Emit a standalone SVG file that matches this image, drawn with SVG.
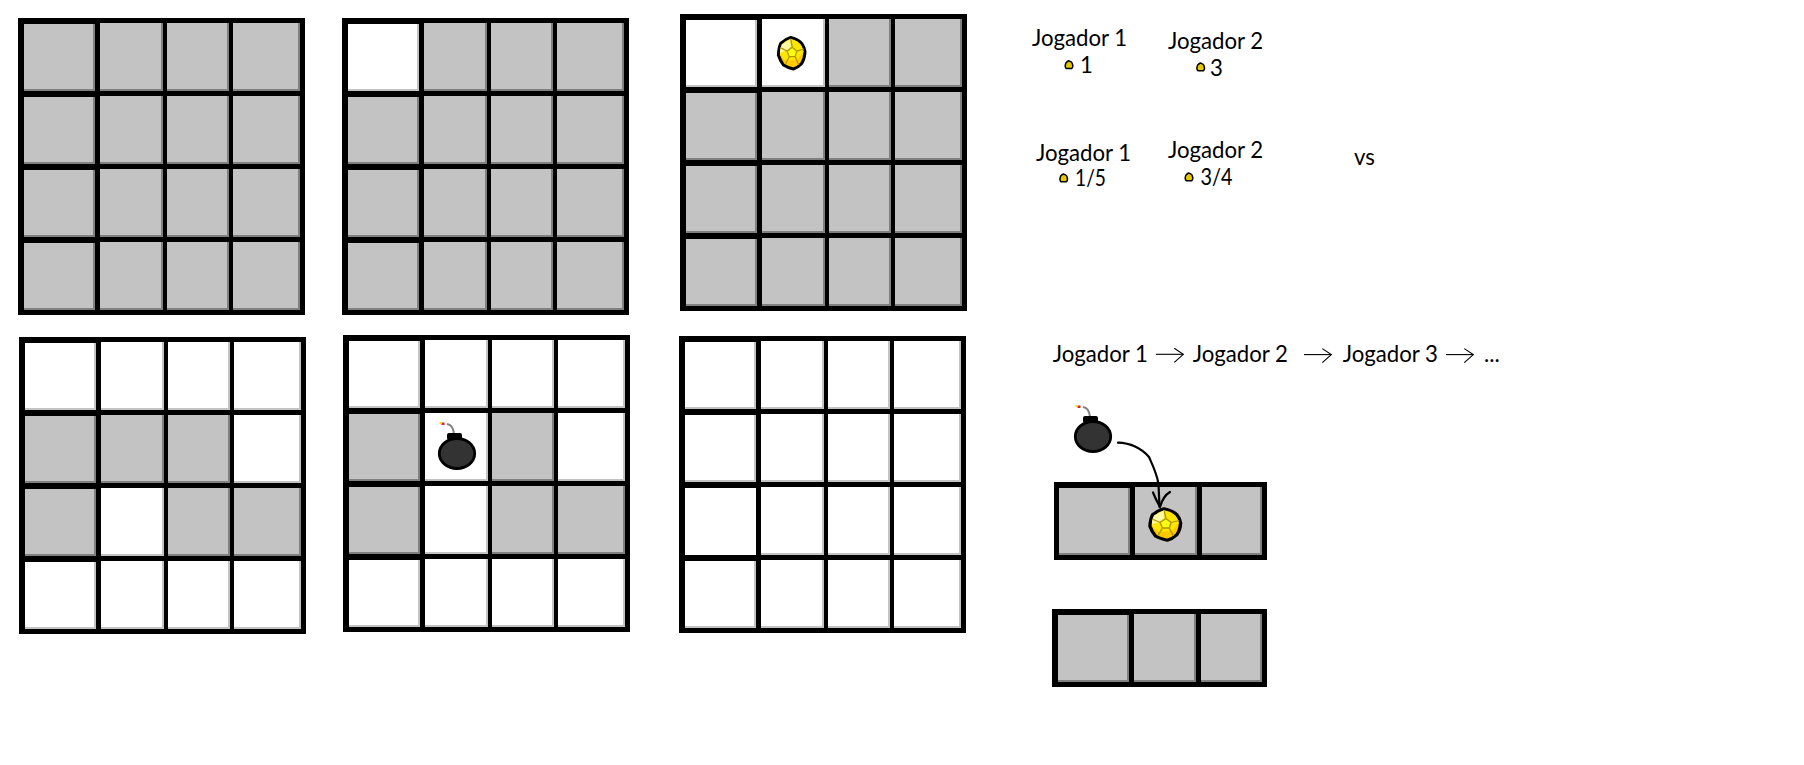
<svg xmlns="http://www.w3.org/2000/svg" xmlns:xlink="http://www.w3.org/1999/xlink" width="1804" height="765" viewBox="0 0 1804 765">
<style>
.bk{fill:#000}.sg{fill:#808080}.g{fill:#c3c3c3}.w{fill:#fff}
.r{shape-rendering:crispEdges}
.t{font-family:Lato,"Noto Sans",sans-serif;font-size:22.2px;fill:#000}
.ln{fill:none;stroke:#000;stroke-width:1.1}
.cv{fill:none;stroke:#000;stroke-width:2.2;stroke-linecap:round;stroke-linejoin:round}
.ol{fill:none;stroke:#b09a00;stroke-width:1.3}
</style>
<defs>
<g id="g1" class="r"><rect class="sg" width="71" height="67"/><rect class="g" width="69" height="65"/></g>
<g id="g2" class="r"><rect class="sg" width="63" height="68"/><rect class="g" width="61" height="66"/></g>
<g id="g3" class="r"><rect class="sg" width="62" height="68"/><rect class="g" width="60" height="66"/></g>
<g id="g4" class="r"><rect class="sg" width="67" height="68"/><rect class="g" width="65" height="66"/></g>
<g id="w1" class="r"><rect class="g" width="71" height="67"/><rect class="w" width="69" height="65"/></g>
<g id="w2" class="r"><rect class="g" width="63" height="68"/><rect class="w" width="61" height="66"/></g>
<g id="w3" class="r"><rect class="g" width="62" height="68"/><rect class="w" width="60" height="66"/></g>
<g id="w4" class="r"><rect class="g" width="67" height="68"/><rect class="w" width="65" height="66"/></g>
<g id="rowG"><use href="#g1" x="24" y="1"/><use href="#g2" x="100"/><use href="#g3" x="167"/><use href="#g4" x="233"/></g>
<g id="rowW"><use href="#w1" x="24" y="1"/><use href="#w2" x="100"/><use href="#w3" x="167"/><use href="#w4" x="233"/></g>
<rect id="frame" class="bk r" x="18" y="18" width="287" height="297"/>
<g id="bomb">
<path d="M1090 416.5Q1089 408 1083 407" fill="none" stroke="#808080" stroke-width="2"/>
<rect x="1077.5" y="405.5" width="3" height="2.5" fill="#e02020"/>
<rect x="1075.5" y="405" width="2.5" height="2" fill="#ffe000"/>
<rect x="1083" y="416" width="15" height="7" rx="2" fill="#000"/>
<ellipse cx="1093" cy="436.5" rx="17.7" ry="15" fill="#333" stroke="#000" stroke-width="2.8"/>
</g>
<g id="coin">
<path d="M-1-15.3Q7-13 10-9.3Q13-5 13.3-1Q13 6 10 10.7Q6 15 1.7 16.3Q-4 15-8.3 12.3Q-12 7-13.3 2.3Q-13-5-11-9.3Q-6-14-1-15.3Z" fill="#ffc800" stroke="#000" stroke-width="3" stroke-linejoin="round"/>
<path d="M-1-13.8Q6-12 9-8Q11.5-4 11.8-1L6 7-6 8-11.8 2Q-11.5-5-9.5-8.5Q-5-12.5-1-13.8Z" fill="#ffe600"/>
<path d="M-1-13.8-9.5-8.5Q-11.5-5-11.8 0L-5-2-1-6Z" fill="#fff9a8"/>
<polygon points="0.5,-5.5 5,-1.5 3.5,4 -2.5,4 -4.5,-1.5" fill="#ffff10"/>
<path class="ol" d="M0.5-5.5 5-1.5 3.5 4-2.5 4-4.5-1.5ZM0.5-5.5-1-14M5-1.5 12-3.5M3.5 4 7 12M-2.5 4-6 11M-4.5-1.5-11.5-5"/>
</g>
<path id="dot" d="M-0.3-4Q2.5-3 3-2Q3.8 0 3.8 1.5Q3.5 3.2 2.5 3.8H-2.5Q-3.5 3.2-3.8 1.5Q-3.8-.5-3-2Q-1.5-3.5-0.3-4Z" fill="#e6c800" stroke="#000" stroke-width="1.5" stroke-linejoin="round"/>
<marker id="head" markerUnits="userSpaceOnUse" markerWidth="14" markerHeight="20" refX="10" refY="8" orient="auto">
<path d="M1 2 10 8 1 16" fill="none" stroke="#000" stroke-width="1.1"/>
</marker>
</defs>
<rect width="1804" height="765" fill="#fff"/>

<g id="board-1" transform="translate(0 0)">
<use href="#frame"/><use href="#rowG" y="23"/><use href="#rowG" y="96"/><use href="#rowG" y="169"/><use href="#rowG" y="242"/>
</g>
<g id="board-2" transform="translate(324 0)">
<use href="#frame"/><use href="#rowG" y="23"/><use href="#rowG" y="96"/><use href="#rowG" y="169"/><use href="#rowG" y="242"/>
<use href="#w1" x="24" y="24"/>
</g>
<g id="board-3" transform="translate(662 -4)">
<use href="#frame"/><use href="#rowG" y="23"/><use href="#rowG" y="96"/><use href="#rowG" y="169"/><use href="#rowG" y="242"/>
<use href="#w1" x="24" y="24"/><use href="#w2" x="100" y="23"/>
</g>
<g id="board-4" transform="translate(1 319)">
<use href="#frame"/><use href="#rowW" y="23"/><use href="#rowG" y="96"/><use href="#rowG" y="169"/><use href="#rowW" y="242"/>
<use href="#w4" x="233" y="96"/><use href="#w2" x="100" y="169"/>
</g>
<g id="board-5" transform="translate(325 317)">
<use href="#frame"/><use href="#rowW" y="23"/><use href="#rowG" y="96"/><use href="#rowG" y="169"/><use href="#rowW" y="242"/>
<use href="#w2" x="100" y="96"/><use href="#w4" x="233" y="96"/><use href="#w2" x="100" y="169"/>
</g>
<g id="board-6" transform="translate(661 318)">
<use href="#frame"/><use href="#rowW" y="23"/><use href="#rowW" y="96"/><use href="#rowW" y="169"/><use href="#rowW" y="242"/>
<rect class="w r" x="24" y="170" width="71" height="67"/>
</g>

<g id="strip-1" class="r">
<rect class="bk" x="1054" y="482" width="213" height="78"/>
<rect class="sg" x="1059" y="488" width="71" height="67"/><rect class="g" x="1059" y="488" width="69" height="65"/>
<rect class="sg" x="1135" y="487" width="62" height="68"/><rect class="g" x="1135" y="487" width="60" height="66"/>
<rect class="sg" x="1202" y="487" width="60" height="68"/><rect class="g" x="1202" y="487" width="58" height="66"/>
</g>
<g id="strip-2" class="r">
<rect class="bk" x="1052" y="609" width="215" height="78"/>
<rect class="sg" x="1058" y="615" width="71" height="67"/><rect class="g" x="1058" y="615" width="69" height="65"/>
<rect class="sg" x="1134" y="614" width="62" height="68"/><rect class="g" x="1134" y="614" width="60" height="66"/>
<rect class="sg" x="1201" y="614" width="61" height="68"/><rect class="g" x="1201" y="614" width="59" height="66"/>
</g>

<g id="bomb-board" transform="translate(-636 17)"><use href="#bomb"/></g>
<g id="bomb-legend"><use href="#bomb"/></g>
<g id="coin-board" transform="translate(791.7 52.7)"><use href="#coin"/></g>
<g id="coin-strip" transform="translate(1165.3 524) scale(1.15 1)"><use href="#coin"/></g>

<g id="score-a">
<text class="t" x="1032" y="46">Jogador 1</text>
<use href="#dot" x="1069" y="64.8"/>
<text class="t" x="1080" y="72.5">1</text>
</g>
<g id="score-b">
<text class="t" x="1168" y="48.5">Jogador 2</text>
<use href="#dot" x="1200.7" y="67"/>
<text class="t" x="1210" y="76">3</text>
</g>
<g id="score-c">
<text class="t" x="1036" y="160.5">Jogador 1</text>
<use href="#dot" x="1063.7" y="178"/>
<text class="t" x="1075" y="186" textLength="31" lengthAdjust="spacingAndGlyphs">1/5</text>
</g>
<g id="score-d">
<text class="t" x="1168" y="157.5">Jogador 2</text>
<use href="#dot" x="1189" y="177"/>
<text class="t" x="1200.5" y="185" textLength="32" lengthAdjust="spacingAndGlyphs">3/4</text>
</g>
<text class="t" id="vs" x="1354" y="165">vs</text>

<g id="turn-order">
<text class="t" x="1052.7" y="362">Jogador 1</text>
<text class="t" x="1192.7" y="362">Jogador 2</text>
<text class="t" x="1342.7" y="362">Jogador 3</text>
<text class="t" x="1484" y="362">...</text>
</g>

<g id="connectors">
<path class="ln" marker-end="url(#head)" d="M1156 354.3H1183.3"/>
<path class="ln" marker-end="url(#head)" d="M1304 354.6H1331.3"/>
<path class="ln" marker-end="url(#head)" d="M1446 354.6H1473.3"/>
<path class="cv" d="M1118 442.7C1128 443 1140 447 1149 457C1153 466 1157 474 1158.5 484L1159.5 507"/>
<path class="cv" d="M1153 492.5Q1156 500 1160 507Q1163 496 1170 492"/>
</g>
</svg>
